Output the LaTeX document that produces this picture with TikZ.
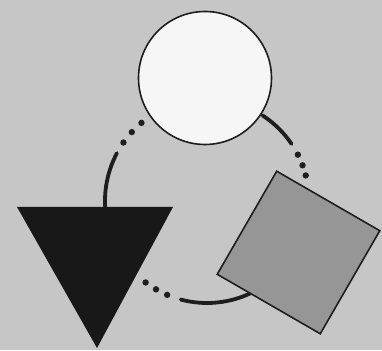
\documentclass[tikz,border=0pt]{standalone}
\usetikzlibrary{shapes.geometric}
\definecolor{bg}{RGB}{198,198,198}
\definecolor{sqfill}{RGB}{150,150,150}
\definecolor{cfill}{RGB}{246,246,246}
\definecolor{tfill}{RGB}{24,24,24}
\definecolor{ink}{RGB}{30,30,30}
\tikzset{
  shapeline/.style={draw=ink, line width=1.6pt},
  link/.style={draw=ink, line width=3.8pt, line cap=round},
  dotmark/.style={fill=ink},
}
\begin{document}
\begin{tikzpicture}[x=1pt,y=1pt]
\fill[bg] (0,0) rectangle (382,350);
\useasboundingbox (0,0) rectangle (382,350);
\coordinate (O) at (207,149);
% connectors (arcs of one big ring)
\draw[link] (O) ++(183:102) arc (183:152:102);
\foreach \a in {145,137.5,130} \fill[dotmark] (O) ++(\a:102) circle (3.2);
\draw[link] (O) ++(57:102) arc (57:34:102);
\foreach \a in {27,20.5,14.5} \fill[dotmark] (O) ++(\a:102) circle (3.2);
\draw[link] (O) ++(296:102) arc (296:255:102);
\foreach \a in {247,240,233} \fill[dotmark] (O) ++(\a:102) circle (3.2);
% shapes
\node[circle, shapeline, fill=cfill, minimum size=133pt, inner sep=0, outer sep=0] (c) at (205,272) {};
\node[rectangle, shapeline, fill=sqfill, minimum size=119pt, inner sep=0, outer sep=0, rotate=-30] (s) at (298.5,97.5) {};
\coordinate (t1) at (17,143);
\coordinate (t2) at (173,143);
\coordinate (t3) at (97,2);
\fill[tfill] (t1) -- (t2) -- (t3) -- cycle;
\end{tikzpicture}
\end{document}
